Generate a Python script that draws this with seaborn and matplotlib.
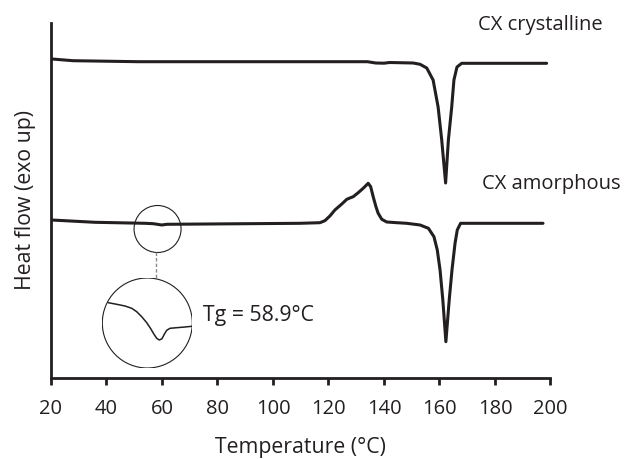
import numpy as np
import pandas as pd
import matplotlib
matplotlib.use("Agg")
import matplotlib.pyplot as plt
from matplotlib.patches import Ellipse, Circle
import seaborn as sns

# ---------------- data ----------------
cryst_T = [20.4, 27.9, 51.4, 134.0, 137.0, 140.0, 142.0, 150.5, 153.0, 155.4,
           157.7, 159.5, 160.8, 162.2, 163.2, 164.4, 165.2, 166.3, 168.0, 198.6]
cryst_flow = [31.90, 31.73, 31.63, 31.63, 31.50, 31.48, 31.55, 31.50, 31.37, 31.00,
              29.80, 27.10, 23.80, 19.50, 23.80, 27.10, 29.80, 31.10, 31.47, 31.47]

amor_T = [20.2, 35.9, 43.1, 53.9, 56.9, 59.9, 61.7, 109.7, 116.9, 118.7, 120.5,
          122.3, 124.8, 126.6, 127.7, 128.9, 130.7, 132.5, 134.3, 135.2, 136.1,
          137.1, 137.9, 139.2, 141.0, 144.6, 148.2, 153.0, 156.0, 158.0, 159.2,
          160.2, 161.2, 162.3, 163.5, 164.5, 165.6, 166.4, 167.6, 197.3]
amor_flow = [15.80, 15.57, 15.53, 15.47, 15.43, 15.30, 15.37, 15.47, 15.53, 15.73,
             16.20, 16.80, 17.40, 17.87, 18.00, 18.13, 18.53, 18.97, 19.47, 19.13,
             18.13, 17.13, 16.47, 15.87, 15.60, 15.53, 15.47, 15.30, 14.97, 14.13,
             12.80, 10.80, 7.80, 3.63, 7.80, 10.80, 13.47, 14.80, 15.47, 15.47]

# magnified glass-transition region (inset)
inset_T = [51.03, 52.60, 54.16, 55.42, 56.36, 57.30, 58.24, 58.99, 59.61, 60.12,
           60.60, 61.11, 61.54, 61.99, 62.61, 63.87, 65.43, 66.69]
inset_flow = [6.53, 6.37, 6.20, 5.97, 5.63, 5.13, 4.53, 3.93, 3.37, 2.97,
              2.80, 2.93, 3.37, 3.77, 3.97, 4.03, 4.10, 4.17]

x_ticks = [20, 40, 60, 80, 100, 120, 140, 160, 180, 200]
labels = {"cryst": "CX crystalline", "amor": "CX amorphous",
          "tg": "Tg = 58.9°C", "x": "Temperature (°C)", "y": "Heat flow (exo up)"}

# ---------------- style ----------------
sns.set_style("ticks")
plt.rcParams["font.family"] = ["Open Sans", "DejaVu Sans"]
INK = "#231f20"
plt.rcParams["text.color"] = INK
FS = 14.5
FL = 15.3

fig = plt.figure(figsize=(6.29, 4.59), dpi=100)
ax = fig.add_axes([51 / 629, 81 / 459, 499.5 / 629, 355 / 459])

df_c = pd.DataFrame({"T": cryst_T, "flow": cryst_flow})
df_a = pd.DataFrame({"T": amor_T, "flow": amor_flow})
sns.lineplot(data=df_c, x="T", y="flow", ax=ax, color=INK, lw=2.2, sort=False)
sns.lineplot(data=df_a, x="T", y="flow", ax=ax, color=INK, lw=2.2, sort=False)

ax.set_xlim(20, 200)
ax.set_ylim(0, 35.5)
ax.set_xticks(x_ticks)
ax.set_xticklabels([str(t) for t in x_ticks], fontsize=FS, color=INK)
ax.set_yticks([])
ax.tick_params(axis="x", direction="out", length=5, width=2, color=INK, pad=10)
for s in ["top", "right"]:
    ax.spines[s].set_visible(False)
for s in ["left", "bottom"]:
    ax.spines[s].set_linewidth(2.0)
    ax.spines[s].set_color(INK)
ax.set_xlabel(labels["x"], fontsize=FL, color=INK, labelpad=13)
ax.set_ylabel(labels["y"], fontsize=FL, color=INK, labelpad=11)

# curve labels
ax.text(173.9, 35.3, labels["cryst"], fontsize=FS, color=INK, va="center", ha="left",
        clip_on=False)
ax.text(175.4, 19.4, labels["amor"], fontsize=FS, color=INK, va="center", ha="left",
        clip_on=False)
ax.text(74.7, 6.3, labels["tg"], fontsize=FL, color=INK, va="center", ha="left")

# small circle around Tg region
ax.add_patch(Ellipse((58.4, 14.9), width=47 / 2.775, height=4.7, fill=False,
                     lw=0.8, color=INK))
# dashed connector
ax.plot([57.8, 57.8], [12.6, 10.0], ls=(0, (2.5, 1.5)), color="#8a8a8a", lw=1.0)

# magnified inset
ax_in = ax.inset_axes([38.49, 1.0, 32.43, 9.0], transform=ax.transData)
ax_in.set_xlim(49.9, 66.8)
ax_in.set_ylim(0, 9)
circ = Circle((0.5, 0.5), 0.5, transform=ax_in.transAxes, fill=False, lw=0.8,
              color=INK)
ax_in.add_patch(circ)
df_i = pd.DataFrame({"T": inset_T, "flow": inset_flow})
sns.lineplot(data=df_i, x="T", y="flow", ax=ax_in, color=INK, lw=1.1, sort=False)
for ln in ax_in.lines:
    ln.set_clip_path(circ)
ax_in.set_xlabel("")
ax_in.set_ylabel("")
ax_in.axis("off")

fig.savefig("out.png", dpi=100)
